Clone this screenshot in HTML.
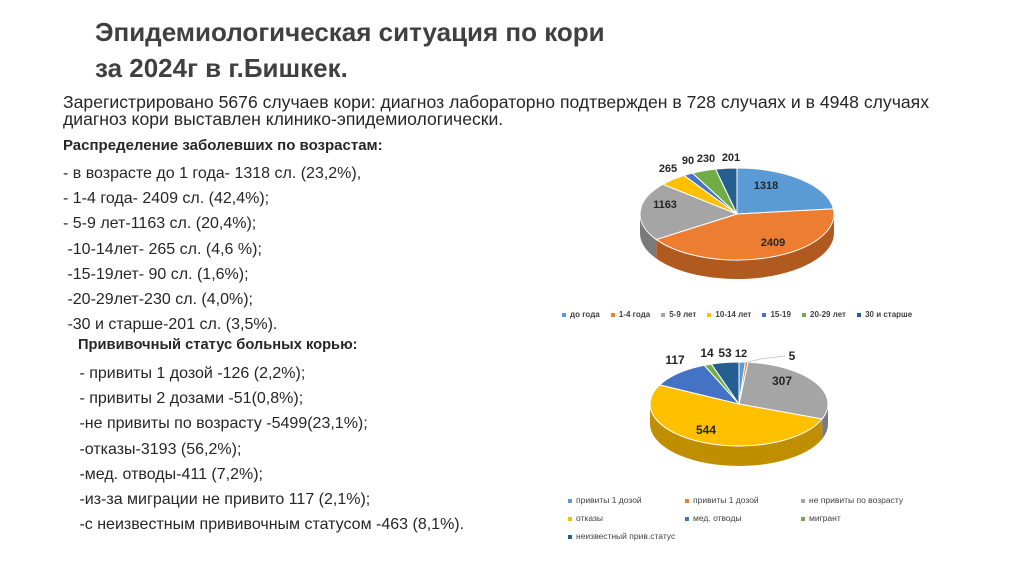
<!DOCTYPE html>
<html><head><meta charset="utf-8"><style>
body{margin:0;width:1024px;height:574px;background:#fff;font-family:"Liberation Sans",sans-serif;position:relative;overflow:hidden;color:#262626}
.t{position:absolute;white-space:nowrap}
h1{position:absolute;left:95px;top:14px;margin:0;font-size:26px;line-height:36px;font-weight:bold;color:#404040}
.b{font-size:16px}
.lg{position:absolute;font-size:8px;font-weight:bold;color:#404040;white-space:nowrap}
.lg span{display:inline-block;width:4px;height:4px;margin-right:4px;vertical-align:middle}
.lg2{font-weight:normal;font-size:8.5px}
</style></head><body>
<h1>Эпидемиологическая ситуация по кори<br>за 2024г в г.Бишкек.</h1>
<div class="t b" style="left:63px;top:94px;font-size:17.6px;line-height:17px">Зарегистрировано 5676 случаев кори: диагноз лабораторно подтвержден в 728 случаях и в 4948 случаях<br>диагноз кори выставлен клинико-эпидемиологически.</div>
<div class="t b" style="left:63px;top:137px;font-size:15px;font-weight:bold">Распределение заболевших по возрастам:</div>
<div class="t b" style="left:63px;top:161px;line-height:25.2px">- в возрасте до 1 года- 1318 сл. (23,2%),<br>- 1-4 года- 2409 сл. (42,4%);<br>- 5-9 лет-1163 сл. (20,4%);<br>&nbsp;-10-14лет- 265 сл. (4,6 %);<br>&nbsp;-15-19лет- 90 сл. (1,6%);<br>&nbsp;-20-29лет-230 сл. (4,0%);<br>&nbsp;-30 и старше-201 сл. (3,5%).</div>
<div class="t b" style="left:78px;top:337px;font-size:14.7px;font-weight:bold">Прививочный статус больных корью:</div>
<div class="t b" style="left:75px;top:361px;line-height:25.2px">&nbsp;- привиты 1 дозой -126 (2,2%);<br>&nbsp;- привиты 2 дозами -51(0,8%);<br>&nbsp;-не привиты по возрасту -5499(23,1%);<br>&nbsp;-отказы-3193 (56,2%);<br>&nbsp;-мед. отводы-411 (7,2%);<br>&nbsp;-из-за миграции не привито 117 (2,1%);<br>&nbsp;-с неизвестным прививочным статусом -463 (8,1%).</div>
<svg id="svg" width="1024" height="574" style="position:absolute;left:0;top:0"></svg>
<div class="lg" style="left:562px;top:310px">
<span style="background:#5b9bd5"></span>до года&nbsp;&nbsp;&nbsp;&nbsp;&nbsp;<span style="background:#ed7d31"></span>1-4 года&nbsp;&nbsp;&nbsp;&nbsp;&nbsp;<span style="background:#a5a5a5"></span>5-9 лет&nbsp;&nbsp;&nbsp;&nbsp;&nbsp;<span style="background:#ffc000"></span>10-14 лет&nbsp;&nbsp;&nbsp;&nbsp;&nbsp;<span style="background:#4472c4"></span>15-19&nbsp;&nbsp;&nbsp;&nbsp;&nbsp;<span style="background:#70ad47"></span>20-29 лет&nbsp;&nbsp;&nbsp;&nbsp;&nbsp;<span style="background:#255e91"></span>30 и старше</div>
<div class="lg lg2" style="left:568px;top:491px;line-height:18px">
<div style="position:absolute;left:0"><span style="background:#5b9bd5"></span>привиты 1 дозой</div>
<div style="position:absolute;left:117px"><span style="background:#ed7d31"></span>привиты 1 дозой</div>
<div style="position:absolute;left:233px"><span style="background:#a5a5a5"></span>не привиты по возрасту</div>
<div style="position:absolute;left:0;top:18px"><span style="background:#ffc000"></span>отказы</div>
<div style="position:absolute;left:117px;top:18px"><span style="background:#4472c4"></span>мед. отводы</div>
<div style="position:absolute;left:233px;top:18px"><span style="background:#70ad47"></span>мигрант</div>
<div style="position:absolute;left:0;top:36px"><span style="background:#255e91"></span>неизвестный прив.статус</div>
</div>
<script>
const ageCats=["до года","1-4 года","5-9 лет","10-14 лет","15-19","20-29 лет","30 и старше"];
const ageVals=[1318,2409,1163,265,90,230,201];
const vacCats=["привиты 1 дозой","привиты 1 дозой","не привиты по возрасту","отказы","мед. отводы","мигрант","неизвестный прив.статус"];
const vacVals=[12,5,307,544,117,14,53];
const colors=["#5b9bd5","#ed7d31","#a5a5a5","#ffc000","#4472c4","#70ad47","#255e91"];
const darks=["#3d6f9c","#b05a1f","#7a7a7a","#bf8f00","#2f5190","#507d32","#173f62"];
const svg=document.getElementById('svg');
const NS="http://www.w3.org/2000/svg";
function pie(vals,cats,cx,cy,rx,ry,d,labels,name){
  const tot=vals.reduce((a,b)=>a+b,0);
  const P=(a,dy)=>[cx+rx*Math.cos(a),cy+ry*Math.sin(a)+(dy||0)];
  let cum=0;const angs=vals.map(v=>{const a0=-Math.PI/2+2*Math.PI*cum/tot;cum+=v;return [a0,-Math.PI/2+2*Math.PI*cum/tot];});
  angs.forEach(([a0,a1],i)=>{
    for(const off of [0,2*Math.PI]){
      const s=Math.max(a0,off),e=Math.min(a1,off+Math.PI);
      if(e<=s)continue;
      const p0=P(s),p1=P(e),q1=P(e,d),q0=P(s,d);
      const el=document.createElementNS(NS,'path');
      el.setAttribute('d',`M${p0}A${rx},${ry} 0 0 1 ${p1}L${q1}A${rx},${ry} 0 0 0 ${q0}Z`);
      el.setAttribute('fill',darks[i]);
      
      
      svg.appendChild(el);
    }
  });
  angs.forEach(([a0,a1],i)=>{
    const p0=P(a0),p1=P(a1);const large=(a1-a0)>Math.PI?1:0;
    const el=document.createElementNS(NS,'path');
    el.setAttribute('d',`M${cx},${cy}L${p0}A${rx},${ry} 0 ${large} 1 ${p1}Z`);
    el.setAttribute('fill',colors[i]);el.setAttribute('stroke','#fff');el.setAttribute('stroke-width','1');
    
    
    svg.appendChild(el);
  });
  vals.forEach((v,i)=>{
    const t=document.createElementNS(NS,'text');
    t.setAttribute('x',labels[i][0]);t.setAttribute('y',labels[i][1]);
    t.setAttribute('font-size',labels[i][2]||'11');t.setAttribute('font-weight','bold');
    t.setAttribute('font-family','Liberation Sans, sans-serif');t.setAttribute('fill','#262626');
    t.setAttribute('text-anchor','middle');
    t.textContent=v;
    
    
    svg.appendChild(t);
  });
}
pie(ageVals,ageCats,737,214,97,46,19,[[766,189],[773,246],[665,208],[668,172],[688,164],[706,162],[731,161]],'age-pie');
pie(vacVals,vacCats,739,404,89,42,20,[[741,357],[792,360,'12'],[782,385,'12'],[706,434,'12'],[675,364,'12'],[707,357,'12'],[725,357,'12']],'vaccine-pie');
const ln=document.createElementNS(NS,'polyline');
ln.setAttribute('points','745,363 760,359 785,356');
ln.setAttribute('fill','none');ln.setAttribute('stroke','#bfbfbf');ln.setAttribute('stroke-width','0.8');


svg.appendChild(ln);
</script>
</body></html>
